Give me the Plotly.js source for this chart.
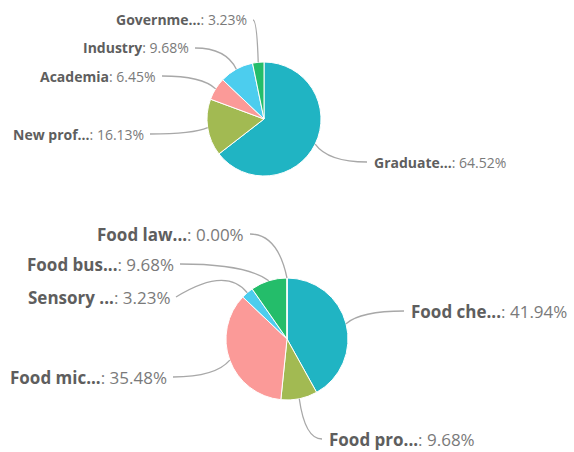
<!DOCTYPE html>
<html><head><meta charset="utf-8">
<script src="https://cdn.plot.ly/plotly-3.0.1.min.js"></script>
<style>html,body{margin:0;padding:0;background:#fff}#chart{width:574px;height:452px}</style>
</head><body><div id="chart"></div>
<script>
// ---- data ----
var careerLabels = ["Graduate...", "New prof...", "Academia", "Industry", "Governme..."];
var careerValues = [64.52, 16.13, 6.45, 9.68, 3.23];
var fieldLabels = ["Food che...", "Food pro...", "Food mic...", "Sensory ...", "Food bus...", "Food law..."];
var fieldValues = [41.94, 9.68, 35.48, 3.23, 9.68, 0.00];
var sliceColors = ["#20b4c3", "#a2ba52", "#fb9a98", "#4ccdee", "#24bd6a", "#9a9a9a"];

// ---- layout constants (pixels) ----
var W = 574, H = 452;
var pies = [
  {labels: careerLabels, values: careerValues, cx: 264, cy: 119, r: 57, fs: 14,
   anchors: [[367,162],[150,134],[162,76],[195,48],[253,20]], ctrl: [null,null,null,null,null]},
  {labels: fieldLabels, values: fieldValues, cx: 287, cy: 339, r: 61, fs: 17,
   anchors: [[404,311],[322,439],[173,377],[176,297],[180,264],[250,234]], ctrl: [null,null,null,[226,266],null,null]}
];

function px(x){return x/W;}
function py(y){return 1 - y/H;}

var traces = [], shapes = [], annotations = [];
pies.forEach(function(p){
  traces.push({
    type: 'pie', labels: p.labels, values: p.values, sort: false, direction: 'clockwise',
    rotation: 0, textinfo: 'none', hoverinfo: 'label+percent',
    marker: {colors: sliceColors.slice(0, p.values.length), line: {color: '#ffffff', width: 1}},
    domain: {x: [px(p.cx - p.r), px(p.cx + p.r)], y: [py(p.cy + p.r), py(p.cy - p.r)]},
    showlegend: false
  });
  var total = p.values.reduce(function(a,b){return a+b;}, 0);
  var cum = 0;
  p.values.forEach(function(v, i){
    var mid = (cum + v/2) / total; cum += v;
    var ang = mid * 2 * Math.PI;
    var ex = p.cx + p.r * Math.sin(ang), ey = p.cy - p.r * Math.cos(ang);
    var a = p.anchors[i];
    var right = a[0] > p.cx;
    var c = p.ctrl[i] || [a[0] + 0.75*(ex - a[0]), a[1]];
    shapes.push({type: 'path', xref: 'paper', yref: 'paper',
      path: 'M' + px(ex) + ',' + py(ey) + ' Q' + px(c[0]) + ',' + py(c[1]) + ' ' + px(a[0]) + ',' + py(a[1]),
      line: {color: '#a8a8a8', width: 1.3}});
    annotations.push({xref: 'paper', yref: 'paper', x: px(a[0] + (right ? 5 : -4)), y: py(a[1]),
      xanchor: right ? 'left' : 'right', yanchor: 'middle', showarrow: false,
      text: '<b><span style="color:#5e5e5e">' + p.labels[i] + '</span></b>: ' + v.toFixed(2) + '%',
      font: {family: '"Open Sans", Lato, sans-serif', size: p.fs, color: '#7a7a7a'}});
  });
});

Plotly.newPlot('chart', traces, {
  width: W, height: H, margin: {l:0, r:0, t:0, b:0},
  paper_bgcolor: '#ffffff', plot_bgcolor: '#ffffff',
  shapes: shapes, annotations: annotations
}, {displayModeBar: false, staticPlot: true});
</script></body></html>
